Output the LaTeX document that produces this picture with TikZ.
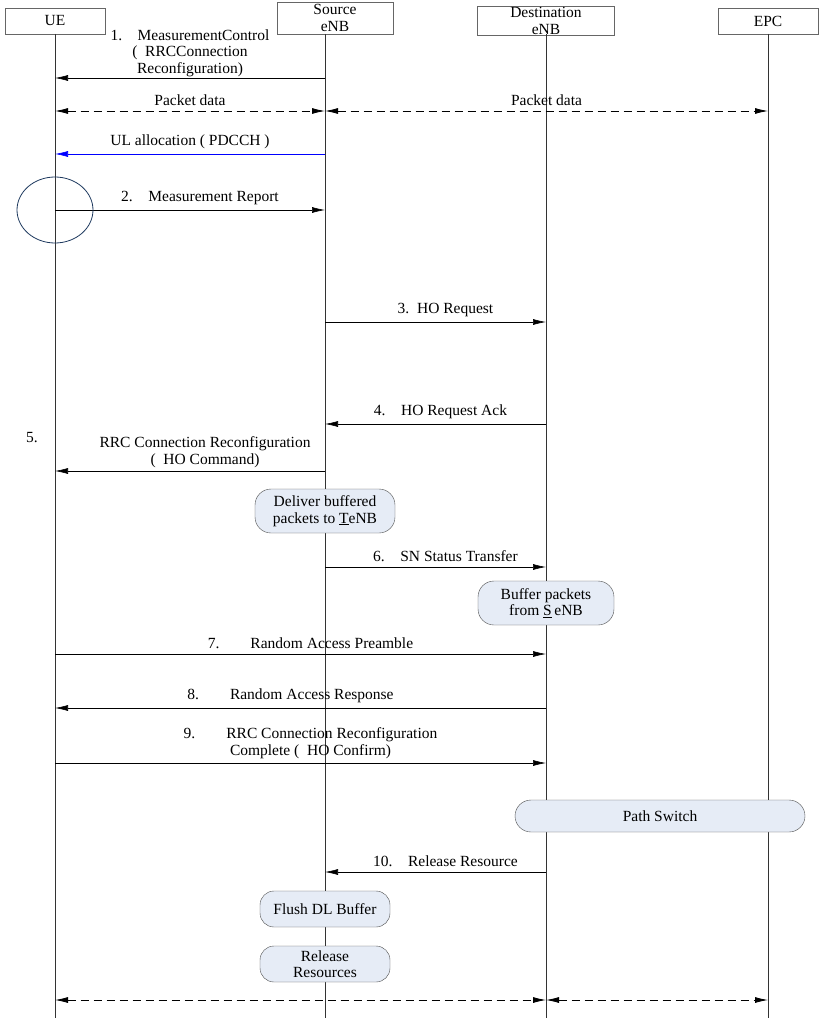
\documentclass[tikz,border=0pt]{standalone}
\usepackage{fontspec}
\setmainfont{Liberation Serif}
\usepackage{tikz}
\usetikzlibrary{arrows.meta}
\definecolor{boxfill}{HTML}{E6ECF6}
\definecolor{circblue}{HTML}{1F3A5F}
\tikzset{
  entity/.style={draw=black!60, minimum height=26pt, inner sep=1pt, align=center},
  action/.style={draw=black!70, fill=boxfill, rounded corners=16pt, align=center, inner sep=2pt},
  msg/.style={-{Latex[length=13pt,width=6pt]}, semithick},
  data/.style={{Latex[length=13pt,width=6pt]}-{Latex[length=13pt,width=6pt]}, dashed, dash pattern=on 8pt off 5pt, thick},
  lbl/.style={above, align=center, inner sep=5pt}
}
\begin{document}
\begin{tikzpicture}[x=1pt, y=-1pt, font=\fontsize{15.5}{16.5}\selectfont]
    \useasboundingbox (0,0) rectangle (825,1024);
    % Entities
    \node [entity, minimum width=100pt] (ue)  at (55,21)  {UE};
    \node [entity, minimum width=116pt, minimum height=32pt] (src) at (335,18) {Source\\eNB};
    \node [entity, minimum width=137pt] (dst) at (546,21) {Destination\\eNB};
    \node [entity, minimum width=100pt] (epc) at (768,21) {EPC};

    % Lifelines
    \foreach \n/\x in {ue/55, src/325, dst/546, epc/768}
        \draw [black!80, semithick] (\x,34) coordinate (\n top) -- (\x,1018) coordinate (\n bot);

    % Points on the lifelines
    \foreach \m/\y in {a/78, b/111, c/154, d/210, e/322, f/424, g/471, h/567, i/654, j/708, k/763, l/872, z/1000} {
        \coordinate (ue\m)  at (55,\y);
        \coordinate (src\m) at (325,\y);
        \coordinate (dst\m) at (546,\y);
        \coordinate (epc\m) at (768,\y);
    }

    % Messages
    \path [msg]  (srca) edge node [lbl, inner sep=1pt] {1.\quad MeasurementControl\\(\ \ RRCConnection\\Reconfiguration)} (uea);
    \path [data] (ueb)  edge node [lbl] {Packet data} (srcb);
    \path [data] (srcb) edge node [lbl] {Packet data} (epcb);
    \path [msg, blue] (srcc) edge node [lbl, black] {UL allocation (\ PDCCH\ )} (uec);
    \path [msg]  (ued)  edge node [lbl, xshift=10pt] {2.\quad Measurement Report} (srcd);
    \path [msg]  (srce) edge node [lbl, xshift=10pt] {3.\ \ HO Request} (dste);
    \path [msg]  (dstf) edge node [lbl, xshift=5pt] {4.\quad HO Request Ack} (srcf);
    \path [msg]  (srcg) edge node [lbl, xshift=15pt, inner sep=3pt] {RRC Connection Reconfiguration\\(\ \ HO Command)} (ueg);
    \node (five) at (32,438) {5.};
    \path [msg]  (srch) edge node [lbl, xshift=10pt] {6.\quad SN Status Transfer} (dsth);
    \path [msg]  (uei)  edge node [lbl, xshift=10pt] {7.\qquad Random Access Preamble} (dsti);
    \path [msg]  (dstj) edge node [lbl, xshift=-10pt] {8.\qquad Random Access Response} (uej);
    \path [msg]  (uek)  edge node [lbl, xshift=10pt, inner sep=4pt] {9.\qquad RRC Connection Reconfiguration\\Complete (\ \ HO Confirm)} (dstk);
    \path [msg]  (dstl) edge node [lbl, xshift=10pt] {10.\quad Release Resource} (srcl);
    \path [data] (uez)  edge (dstz);
    \path [data] (dstz) edge (epcz);

    % Actions
    \node [action, minimum width=140pt, minimum height=44pt] (deliver) at (325,511) {Deliver buffered\\packets to \underline{T}eNB};
    \node [action, minimum width=136pt, minimum height=44pt] (buffer)  at (546,603) {Buffer\ packets\\from \underline{S}\,eNB};
    \node [action, minimum width=290pt, minimum height=32pt] (switch)  at (660,816) {Path Switch};
    \node [action, minimum width=130pt, minimum height=36pt, rounded corners=14pt] (flush)   at (325,909) {Flush DL Buffer};
    \node [action, minimum width=130pt, minimum height=36pt, rounded corners=14pt] (release) at (325,964) {Release\\Resources};

    % Highlight
    \draw [circblue, thick] (ued) ellipse [x radius=38pt, y radius=33pt];
\end{tikzpicture}
\end{document}
